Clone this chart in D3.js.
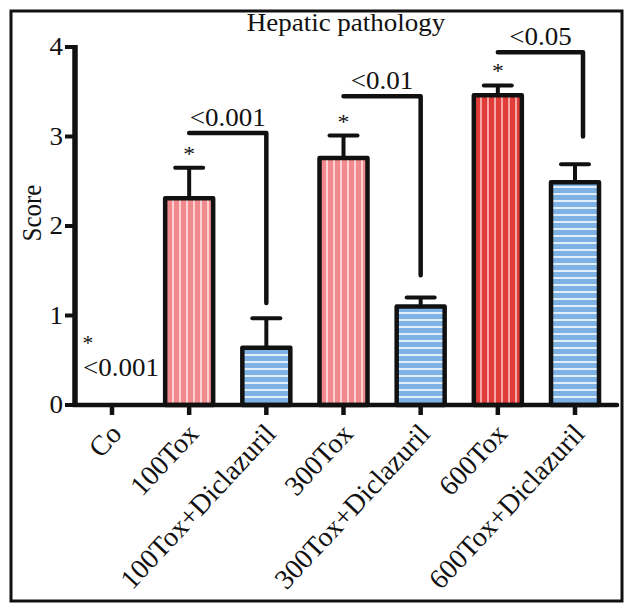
<!DOCTYPE html>
<html><head><meta charset="utf-8">
<script src="https://cdn.jsdelivr.net/npm/d3@7"></script>
<style>body{margin:0;background:#fff}svg{display:block}text{font-family:"Liberation Serif","Times New Roman",serif;fill:#111}</style>
</head><body><svg id="c" width="635" height="615"></svg>
<script>
const categories = ["Co","100Tox","100Tox+Diclazuril","300Tox","300Tox+Diclazuril","600Tox","600Tox+Diclazuril"];
const means = [0, 2.31, 0.64, 2.76, 1.10, 3.46, 2.49];
const errors = [0, 0.34, 0.33, 0.25, 0.10, 0.11, 0.20];
const groups = ["none","tox","dic","tox","dic","tox2","dic"];
const yTicks = [0,1,2,3,4];
const starCats = ["100Tox","300Tox","600Tox"];
const bracketFrom = ["100Tox","300Tox","600Tox"];
const bracketTo = ["100Tox+Diclazuril","300Tox+Diclazuril","600Tox+Diclazuril"];
const bracketLevel = [3.04, 3.45, 3.94];
const bracketEnd = [1.14, 1.45, 3.0];
const bracketLabels = ["<0.001","<0.01","<0.05"];
const title = "Hepatic pathology";
const yLabel = "Score";
const coNote = "<0.001";

const SX = 1.08, FS = 25, LFS = 28;
const svg = d3.select("#c");
const defs = svg.append("defs");
function vpat(id, base, stripe){
  const p = defs.append("pattern").attr("id",id).attr("patternUnits","userSpaceOnUse").attr("width",7).attr("height",7);
  p.append("rect").attr("width",7).attr("height",7).attr("fill",base);
  p.append("rect").attr("x",4).attr("width",2).attr("height",7).attr("fill",stripe);
}
function hpat(id, base, stripe){
  const p = defs.append("pattern").attr("id",id).attr("patternUnits","userSpaceOnUse").attr("width",7).attr("height",7);
  p.append("rect").attr("width",7).attr("height",7).attr("fill",base);
  p.append("rect").attr("y",4).attr("width",7).attr("height",2).attr("fill",stripe);
}
vpat("tox","#f08a8c","#fcd2d2");
vpat("tox2","#e03c3a","#f6a6a4");
hpat("dic","#7eb2e4","#e2eefa");

svg.append("rect").attr("x",11).attr("y",11).attr("width",611).attr("height",590).attr("fill","none").attr("stroke","#111").attr("stroke-width",3);

const x = d3.scalePoint().domain(categories).range([112,575]);
const y = d3.scaleLinear().domain([0,4]).range([405,47]);
const bw = 48;

function stxt(g, tx, ty, str, anchor, fs){
  return g.append("text").attr("transform",`translate(${tx},${ty}) scale(${SX},1)`)
    .attr("text-anchor",anchor||"middle").attr("font-size",fs||FS).text(str);
}

// bars
const bars = svg.append("g");
categories.forEach((c,i)=>{
  if(means[i]<=0) return;
  bars.append("rect").attr("x",x(c)-bw/2).attr("y",y(means[i])).attr("width",bw).attr("height",y(0)-y(means[i]))
    .attr("fill",`url(#${groups[i]})`).attr("stroke","#111").attr("stroke-width",4.5).attr("stroke-linejoin","round");
  const et = y(means[i]+errors[i]);
  bars.append("line").attr("x1",x(c)).attr("x2",x(c)).attr("y1",y(means[i])).attr("y2",et).attr("stroke","#111").attr("stroke-width",4);
  bars.append("line").attr("x1",x(c)-14).attr("x2",x(c)+14).attr("y1",et).attr("y2",et).attr("stroke","#111").attr("stroke-width",4).attr("stroke-linecap","round");
});

// axes
const ax = svg.append("g");
ax.append("line").attr("x1",75).attr("x2",75).attr("y1",y(4)-2).attr("y2",y(0)+2).attr("stroke","#111").attr("stroke-width",5.5);
ax.append("line").attr("x1",73).attr("x2",617).attr("y1",y(0)).attr("y2",y(0)).attr("stroke","#111").attr("stroke-width",4.5).attr("stroke-linecap","round");
yTicks.forEach(t=>{
  ax.append("line").attr("x1",65).attr("x2",75).attr("y1",y(t)).attr("y2",y(t)).attr("stroke","#111").attr("stroke-width",4);
  stxt(ax, 63, y(t)+8, String(t), "end");
});
categories.forEach(c=>{
  ax.append("line").attr("x1",x(c)).attr("x2",x(c)).attr("y1",y(0)).attr("y2",y(0)+10).attr("stroke","#111").attr("stroke-width",4.5);
  ax.append("text").attr("transform",`translate(${x(c)+11},${y(0)+30}) rotate(-47)`)
    .attr("text-anchor","end").attr("font-size",LFS).text(c);
});

// stars
categories.forEach((c,i)=>{
  if(starCats.includes(c)) stxt(svg, x(c), y(means[i]+errors[i])-7, "*", "middle", 22);
});
stxt(svg, 88, 350, "*", "middle", 20);
stxt(svg, 83, 376, coNote, "start");

// brackets
bracketFrom.forEach((f,i)=>{
  const x1 = x(f), x2 = x(bracketTo[i]) + (i===2?8:0);
  svg.append("path").attr("d",`M${x1},${y(bracketLevel[i])}H${x2}V${y(bracketEnd[i])}`).attr("fill","none")
    .attr("stroke","#111").attr("stroke-width",4.5).attr("stroke-linecap","round").attr("stroke-linejoin","round");
  stxt(svg, (x1+x2)/2, y(bracketLevel[i])-7, bracketLabels[i], "middle");
});

stxt(svg, 346, 31, title, "middle");
svg.append("text").attr("transform",`translate(41,213) rotate(-90) scale(1,${SX})`).attr("text-anchor","middle").attr("font-size",FS).text(yLabel);
</script></body></html>
